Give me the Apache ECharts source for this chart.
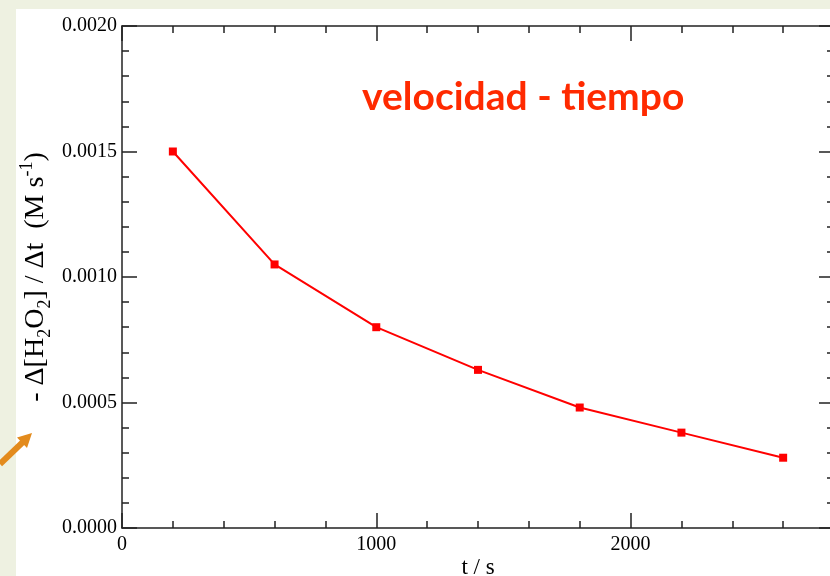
<!DOCTYPE html>
<html>
<head>
<meta charset="utf-8">
<script src="https://cdn.jsdelivr.net/npm/echarts@6/dist/echarts.min.js"></script>
<style>
  html, body { margin: 0; padding: 0; }
  #fondo { position: relative; width: 830px; height: 576px; background: #eef1e1; overflow: hidden; }
  #hoja { position: absolute; left: 16px; top: 9px; right: 0; bottom: 0; background: #fff; }
  #grafico { position: absolute; left: 0; top: 0; width: 830px; height: 576px; }
</style>
</head>
<body>
<div id="fondo">
  <div id="hoja"></div>
  <div id="grafico"></div>
</div>
<script>
  // datos: velocidad media de descomposición del H2O2
  const tiempos = [200, 600, 1000, 1400, 1800, 2200, 2600];
  const velocidades = [0.00150, 0.00105, 0.00080, 0.00063, 0.00048, 0.00038, 0.00028];

  // etiquetas de los ejes
  const xTickLabels = ['0', '1000', '2000'];
  const yTickLabels = ['0.0000', '0.0005', '0.0010', '0.0015', '0.0020'];

  const serif = '"Liberation Serif", "Times New Roman", serif';
  const ejeColor = '#222';

  const chart = echarts.init(document.getElementById('grafico'));

  // eje x: uno con las marcas grandes y otro con las pequeñas (cada 200 s)
  function ejeX(position, grande, conTexto) {
    return {
      type: 'value',
      position: position,
      min: 0,
      max: 2800,
      interval: grande ? 1000 : 200,
      axisLine: { show: grande, onZero: false, lineStyle: { color: ejeColor, width: 1.5 } },
      axisTick: { inside: true, length: grande ? 15 : 7, lineStyle: { color: ejeColor, width: 1.5 } },
      axisLabel: {
        show: conTexto,
        margin: 7,
        showMaxLabel: false,
        fontFamily: serif,
        fontSize: 20,
        color: '#000',
        formatter: function (v) {
          return xTickLabels[Math.round(v / 1000)] || '';
        }
      },
      splitLine: { show: false }
    };
  }

  function ejeY(position, conTexto) {
    return {
      type: 'value',
      position: position,
      min: 0,
      max: 0.002,
      interval: 0.0005,
      axisLine: { show: true, onZero: false, lineStyle: { color: ejeColor, width: 1.5 } },
      axisTick: { inside: true, length: 15, lineStyle: { color: ejeColor, width: 1.5 } },
      minorTick: { show: true, splitNumber: 5, length: 7, lineStyle: { color: ejeColor, width: 1.5 } },
      axisLabel: {
        show: conTexto,
        margin: 5,
        fontFamily: serif,
        fontSize: 20,
        color: '#000',
        formatter: function (v) {
          return yTickLabels[Math.round(v / 0.0005)];
        }
      },
      splitLine: { show: false }
    };
  }

  const xAbajo = ejeX('bottom', true, true);
  xAbajo.name = 't / s';
  xAbajo.nameLocation = 'middle';
  xAbajo.nameGap = 28;
  xAbajo.nameMoveOverlap = false;
  xAbajo.nameTextStyle = { fontFamily: serif, fontSize: 23, color: '#000' };

  const yIzq = ejeY('left', true);
  yIzq.name = '- Δ[H{sub|2}O{sub|2}] / Δt  (M s{sup|-1})';
  yIzq.nameLocation = 'middle';
  yIzq.nameGap = 68;
  yIzq.nameMoveOverlap = false;
  yIzq.nameTextStyle = {
    fontFamily: serif,
    fontSize: 28,
    color: '#000',
    lineHeight: 36,
    rich: {
      sub: { fontFamily: serif, fontSize: 18, color: '#000', lineHeight: 18, verticalAlign: 'bottom' },
      sup: { fontFamily: serif, fontSize: 18, color: '#000', lineHeight: 18, verticalAlign: 'top' }
    }
  };

  const option = {
    backgroundColor: 'transparent',
    animation: false,
    title: {
      text: 'velocidad - tiempo',
      left: 357,
      top: 73,
      textStyle: { fontFamily: 'Lato', fontWeight: 'bold', fontSize: 39, color: '#ff2a00' }
    },
    grid: { left: 122, top: 26, right: -4, bottom: 48, outerBoundsMode: 'none' },
    xAxis: [
      xAbajo,
      ejeX('bottom', false, false),
      ejeX('top', true, false),
      ejeX('top', false, false)
    ],
    yAxis: [
      yIzq,
      ejeY('right', false)
    ],
    series: [{
      type: 'line',
      xAxisIndex: 0,
      yAxisIndex: 0,
      data: tiempos.map((t, i) => [t, velocidades[i]]),
      symbol: 'rect',
      symbolSize: 8,
      lineStyle: { color: '#ff0000', width: 2 },
      itemStyle: { color: '#ff0000' }
    }],
    // flecha naranja de la esquina
    graphic: [
      {
        type: 'line',
        shape: { x1: 0, y1: 464, x2: 24, y2: 441 },
        style: { stroke: '#e38b1d', lineWidth: 6 },
        z: 10
      },
      {
        type: 'polygon',
        shape: { points: [[32, 433], [17, 437.5], [27, 448]] },
        style: { fill: '#e38b1d' },
        z: 10
      }
    ]
  };

  chart.setOption(option);
</script>
</body>
</html>
